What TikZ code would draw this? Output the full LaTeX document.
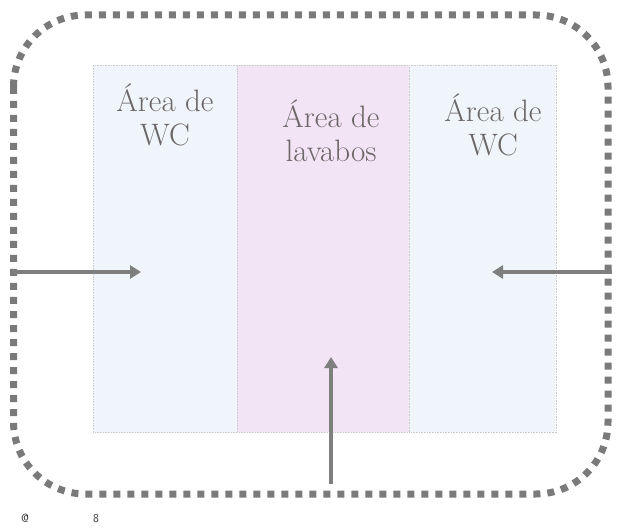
\documentclass[tikz,border=0pt]{standalone}
\usetikzlibrary{arrows.meta}
\definecolor{wcfill}{HTML}{F0F5FC}
\definecolor{lavfill}{HTML}{F2E3F5}
\definecolor{txtgray}{HTML}{6B6767}
\definecolor{arrgray}{HTML}{7F7F7F}
\definecolor{framegray}{HTML}{7A7A7A}
\tikzset{
  zone/.style={draw=gray!40, densely dotted, line width=0.6pt, minimum height=367pt, inner sep=0pt, anchor=north west},
  zonelabel/.style={text=txtgray, font=\fontsize{31}{34}\selectfont, align=center, anchor=base},
  flowarrow/.style={draw=arrgray, line width=3.5pt, -{Triangle[length=11pt,width=13pt]}},
  frame/.style={draw=framegray, line width=7pt, dash pattern=on 7pt off 7pt, rounded corners=72pt},
  tiny/.style={font=\sffamily\fontsize{12}{14}\selectfont, text=black!80, anchor=base}
}
\begin{document}
\begin{tikzpicture}[x=1pt,y=-1pt]
\useasboundingbox (0,0) rectangle (621,529);
\node[zone, fill=wcfill, minimum width=144pt] (wcl) at (93,65) {};
\node[zone, fill=lavfill, minimum width=172pt] (lav) at (237,65) {};
\node[zone, fill=wcfill, minimum width=147pt] (wcr) at (409,65) {};
\node[zonelabel] (t1) at (165,146) {Área de\\WC};
\node[zonelabel] (t2) at (331,162) {Área de\\lavabos};
\node[zonelabel] (t3) at (493,156) {Área de\\WC};
\draw[frame] (13.5,15) rectangle (608,494);
\coordinate (lin) at (12,272);
\coordinate (lend) at (141,272);
\coordinate (rin) at (612,272);
\coordinate (rend) at (492,272);
\coordinate (bin) at (331,484);
\coordinate (bend) at (331,357);
\draw[flowarrow] (lin) -- (lend);
\draw[flowarrow] (rin) -- (rend);
\draw[flowarrow] (bin) -- (bend);
\node[tiny] (at) at (25,522) {@};
\node[tiny] (eight) at (96,522) {8};
\end{tikzpicture}
\end{document}
